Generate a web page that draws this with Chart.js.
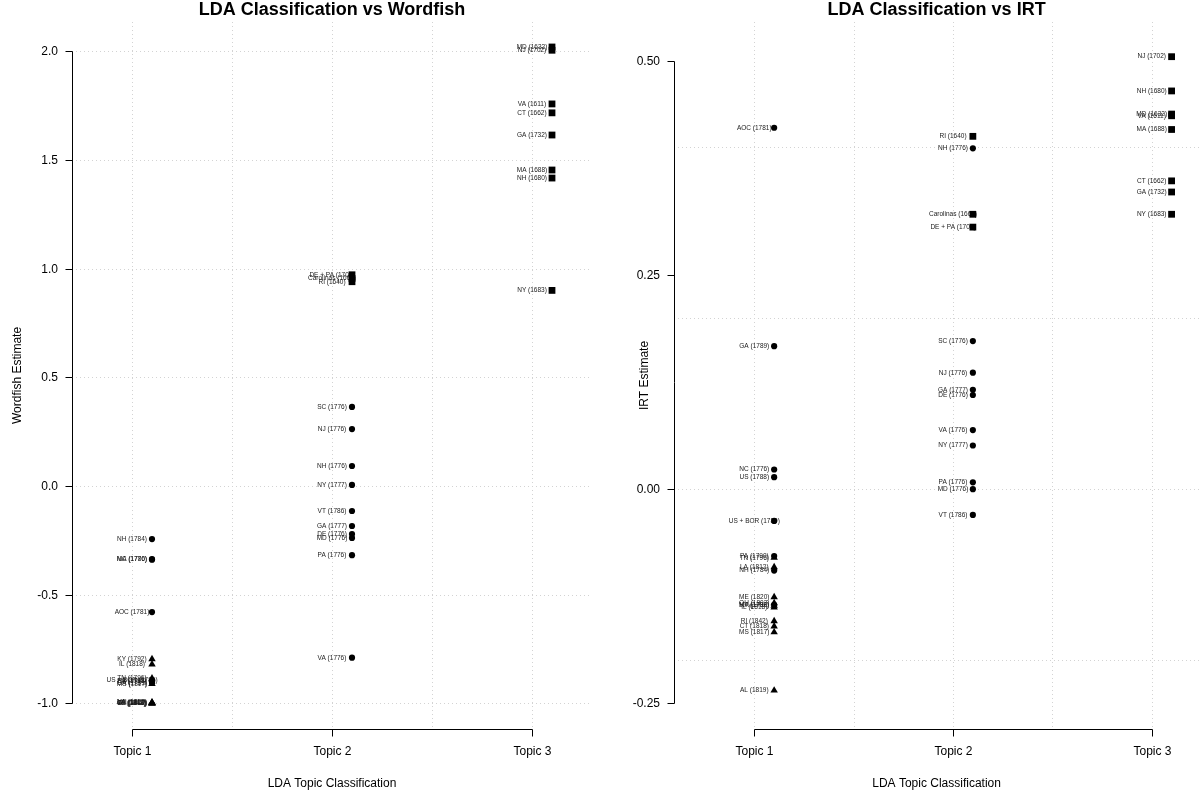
<!DOCTYPE html>
<html>
<head>
<meta charset="utf-8">
<script src="https://cdn.jsdelivr.net/npm/chart.js@4.4.1/dist/chart.umd.min.js"></script>
<style>
  html, body { margin: 0; padding: 0; background: #ffffff; }
  #wrap { position: relative; width: 1204px; height: 794px; overflow: hidden; }
  canvas { position: absolute; top: 0; }
</style>
</head>
<body>
<div id="wrap">
  <canvas id="left" width="602" height="794" style="left:0px"></canvas>
  <canvas id="right" width="602" height="794" style="left:602px"></canvas>
</div>
<script>
// ---------------- DATA ----------------
const topicNames = ["Topic 1", "Topic 2", "Topic 3"];

const docLabels = [
  "NH (1784)", "MA (1780)", "NC (1776)", "AOC (1781)", "KY (1792)", "IL (1818)",
  "US + BOR (1789)", "TN (1796)", "US (1788)", "MS (1817)", "GA (1789)", "PA (1790)",
  "ME (1820)", "OH (1802)", "CT (1818)", "RI (1842)", "AL (1819)", "LA (1812)",
  "DE + PA (1701)", "Carolinas (1663)", "RI (1640)", "SC (1776)", "NJ (1776)", "NH (1776)",
  "NY (1777)", "VT (1786)", "GA (1777)", "DE (1776)", "MD (1776)", "PA (1776)", "VA (1776)",
  "MD (1632)", "NJ (1702)", "VA (1611)", "CT (1662)", "GA (1732)", "MA (1688)", "NH (1680)", "NY (1683)"
];
const docTopic = [
  1, 1, 1, 1, 1, 1, 1, 1, 1, 1, 1, 1, 1, 1, 1, 1, 1, 1,
  2, 2, 2, 2, 2, 2, 2, 2, 2, 2, 2, 2, 2,
  3, 3, 3, 3, 3, 3, 3, 3
];
const docShape = [
  "circle", "circle", "circle", "circle", "triangle", "triangle",
  "circle", "triangle", "circle", "triangle", "circle", "circle",
  "triangle", "triangle", "triangle", "triangle", "triangle", "triangle",
  "rect", "rect", "rect", "circle", "circle", "circle",
  "circle", "circle", "circle", "circle", "circle", "circle", "circle",
  "rect", "rect", "rect", "rect", "rect", "rect", "rect", "rect"
];
const wordfishValues = [
  -0.244, -0.336, -0.339, -0.58, -0.796, -0.82,
  -0.895, -0.885, -0.90, -0.91, -0.905, -0.90,
  -0.995, -0.998, -1.0, -1.0, -1.0, -0.997,
  0.972, 0.955, 0.94, 0.364, 0.262, 0.092,
  0.005, -0.115, -0.184, -0.221, -0.239, -0.318, -0.79,
  2.02, 2.005, 1.758, 1.717, 1.615, 1.454, 1.417, 0.90
];
const irtValues = [
  -0.095, -0.135, 0.023, 0.422, -0.136, -0.138,
  -0.037, -0.080, 0.014, -0.167, 0.167, -0.078,
  -0.126, -0.133, -0.160, -0.154, -0.235, -0.091,
  0.306, 0.321, 0.412, 0.173, 0.136, 0.398,
  0.051, -0.030, 0.116, 0.110, 0.000, 0.008, 0.069,
  0.438, 0.505, 0.436, 0.360, 0.347, 0.420, 0.465, 0.321
];

const wordfishTicks = [-1.0, -0.5, 0.0, 0.5, 1.0, 1.5, 2.0];
const wordfishTickLabels = ["-1.0", "-0.5", "0.0", "0.5", "1.0", "1.5", "2.0"];
const wordfishGridY = [-1.0, -0.5, 0.0, 0.5, 1.0, 1.5, 2.0];
const irtTicks = [-0.25, 0.0, 0.25, 0.5];
const irtTickLabels = ["-0.25", "0.00", "0.25", "0.50"];
const irtGridY = [-0.2, 0.0, 0.2, 0.4];
const gridX = [1, 1.5, 2, 2.5, 3];
const topicTicks = [1, 2, 3];
const pointOffset = 0.1;

// ---------------- DRAWING ----------------
const FONT = '"Liberation Sans", Arial, Helvetica, sans-serif';

const rStyle = {
  id: 'rStyle',
  beforeDatasetsDraw(chart, args, o) {
    const ctx = chart.ctx;
    const a = chart.chartArea;
    const xs = chart.scales.x, ys = chart.scales.y;
    ctx.save();
    // grid
    ctx.strokeStyle = '#d3d3d3';
    ctx.lineWidth = 1;
    ctx.setLineDash([1, 3]);
    o.gridX.forEach(v => {
      const px = Math.round(xs.getPixelForValue(v)) + 0.5;
      ctx.beginPath(); ctx.moveTo(px, a.top); ctx.lineTo(px, a.bottom); ctx.stroke();
    });
    o.gridY.forEach(v => {
      const py = Math.round(ys.getPixelForValue(v)) + 0.5;
      ctx.beginPath(); ctx.moveTo(a.left, py); ctx.lineTo(a.right, py); ctx.stroke();
    });
    ctx.setLineDash([]);
    // y axis
    ctx.strokeStyle = '#000';
    const ax = Math.round(a.left) + 0.5;
    const yTop = Math.round(ys.getPixelForValue(o.yTicks[o.yTicks.length - 1])) + 0.5;
    const yBot = Math.round(ys.getPixelForValue(o.yTicks[0])) + 0.5;
    ctx.beginPath(); ctx.moveTo(ax, yTop); ctx.lineTo(ax, yBot); ctx.stroke();
    ctx.fillStyle = '#000';
    ctx.font = '12px ' + FONT;
    ctx.textAlign = 'right'; ctx.textBaseline = 'middle';
    o.yTicks.forEach((v, i) => {
      const py = Math.round(ys.getPixelForValue(v)) + 0.5;
      ctx.beginPath(); ctx.moveTo(ax - 7, py); ctx.lineTo(ax, py); ctx.stroke();
      ctx.fillText(o.yTickLabels[i], a.left - 14, py);
    });
    // x axis
    const ay = Math.round(a.bottom) + 0.5;
    const x1 = Math.round(xs.getPixelForValue(topicTicks[0])) + 0.5;
    const x3 = Math.round(xs.getPixelForValue(topicTicks[topicTicks.length - 1])) + 0.5;
    ctx.beginPath(); ctx.moveTo(x1, ay); ctx.lineTo(x3, ay); ctx.stroke();
    ctx.textAlign = 'center';
    topicTicks.forEach((v, i) => {
      const px = Math.round(xs.getPixelForValue(v)) + 0.5;
      ctx.beginPath(); ctx.moveTo(px, ay); ctx.lineTo(px, ay + 7); ctx.stroke();
      ctx.fillText(topicNames[i], px, a.bottom + 23);
    });
    // axis titles
    const cx = (a.left + a.right) / 2;
    const cy = (a.top + a.bottom) / 2;
    ctx.fillText(o.xTitle, cx, a.bottom + 55);
    ctx.save();
    ctx.translate(o.yTitleX, cy);
    ctx.rotate(-Math.PI / 2);
    ctx.fillText(o.yTitle, 0, 0);
    ctx.restore();
    // main title
    ctx.font = 'bold 18px ' + FONT;
    ctx.fillText(o.title, cx, 10);
    // point labels (drawn under the points)
    ctx.font = '6.5px ' + FONT;
    ctx.fillStyle = '#1a1a1a';
    ctx.textAlign = 'center';
    o.values.forEach((v, i) => {
      const px = xs.getPixelForValue(docTopic[i]);
      const py = ys.getPixelForValue(v);
      ctx.fillText(docLabels[i], px, py);
    });
    ctx.restore();
  }
};

function makePanel(id, values, xmin, xmax, ymin, ymax, padRight, opts) {
  const pts = values.map((v, i) => ({ x: docTopic[i] + pointOffset, y: v }));
  return new Chart(document.getElementById(id), {
    type: 'scatter',
    data: {
      datasets: [{
        data: pts,
        pointStyle: ctx => docShape[ctx.dataIndex],
        pointRadius: ctx => {
          const s = docShape[ctx.dataIndex];
          return s === 'rect' ? 4.8 : (s === 'triangle' ? 4.3 : 3.1);
        },
        backgroundColor: '#000',
        borderColor: '#000',
        borderWidth: 0,
        clip: false
      }]
    },
    options: {
      responsive: false,
      animation: false,
      devicePixelRatio: 1,
      layout: { padding: { left: 72, right: padRight, top: 22, bottom: 65 } },
      scales: {
        x: { type: 'linear', min: xmin, max: xmax, display: false },
        y: { type: 'linear', min: ymin, max: ymax, display: false }
      },
      plugins: {
        legend: { display: false },
        tooltip: { enabled: false },
        rStyle: Object.assign({ values: values, gridX: gridX }, opts)
      }
    },
    plugins: [rStyle]
  });
}

makePanel('left', wordfishValues, 0.7, 3.3, -1.118, 2.135, 10, {
  title: 'LDA Classification vs Wordfish',
  xTitle: 'LDA Topic Classification',
  yTitle: 'Wordfish Estimate',
  yTitleX: 18,
  gridY: wordfishGridY,
  yTicks: wordfishTicks,
  yTickLabels: wordfishTickLabels
});

makePanel('right', irtValues, 0.596, 3.239, -0.280, 0.5455, 0, {
  title: 'LDA Classification vs IRT',
  xTitle: 'LDA Topic Classification',
  yTitle: 'IRT Estimate',
  yTitleX: 43,
  gridY: irtGridY,
  yTicks: irtTicks,
  yTickLabels: irtTickLabels
});
</script>
</body>
</html>
